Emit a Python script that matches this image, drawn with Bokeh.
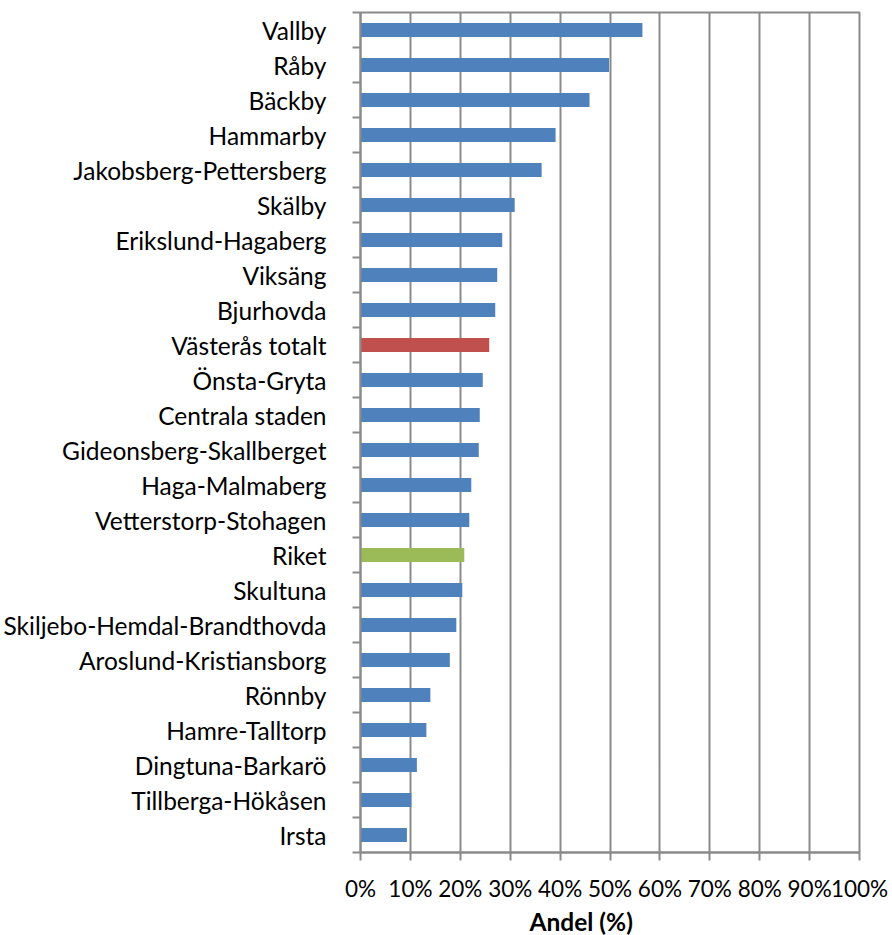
from bokeh.plotting import figure
from bokeh.models import FixedTicker, Range1d, ColumnDataSource, Title
from bokeh.embed import file_html
from bokeh.resources import INLINE

categories = [
    "Vallby", "Råby", "Bäckby", "Hammarby", "Jakobsberg-Pettersberg", "Skälby",
    "Erikslund-Hagaberg", "Viksäng", "Bjurhovda", "Västerås totalt", "Önsta-Gryta",
    "Centrala staden", "Gideonsberg-Skallberget", "Haga-Malmaberg",
    "Vetterstorp-Stohagen", "Riket", "Skultuna", "Skiljebo-Hemdal-Brandthovda",
    "Aroslund-Kristiansborg", "Rönnby", "Hamre-Talltorp", "Dingtuna-Barkarö",
    "Tillberga-Hökåsen", "Irsta",
]
values = [
    56.5, 49.8, 45.9, 39.1, 36.3, 30.9, 28.4, 27.4, 27.0, 25.8, 24.5, 23.9,
    23.7, 22.2, 21.8, 20.8, 20.4, 19.2, 17.9, 14.0, 13.2, 11.3, 10.2, 9.3,
]
x_ticks = [0, 10, 20, 30, 40, 50, 60, 70, 80, 90, 100]
x_tick_labels = ["0%", "10%", "20%", "30%", "40%", "50%", "60%", "70%", "80%", "90%", "100%"]
axis_title = "Andel (%)"

BLUE, RED, GREEN = "#4F81BD", "#C0504D", "#9BBB59"
colors = [RED if c == "Västerås totalt" else GREEN if c == "Riket" else BLUE for c in categories]

n = len(categories)
ypos = [n - 1 - i + 0.5 for i in range(n)]

src = ColumnDataSource(dict(y=ypos, v=values, c=colors))

FONT = "Lato"
FS = "24.5px"
GRAY = "#8a8a8a"

p = figure(width=892, height=935, output_backend="svg", toolbar_location=None,
           x_range=Range1d(0, 100), y_range=Range1d(0, n),
           min_border_left=359, min_border_top=12, min_border_right=33, min_border_bottom=81)

p.hbar(y="y", right="v", left=0, height=0.4, fill_color="c", line_color=None, source=src)

# x axis
p.xaxis.ticker = FixedTicker(ticks=x_ticks)
p.xaxis.major_label_overrides = {t: l for t, l in zip(x_ticks, x_tick_labels)}
p.xaxis.major_label_text_font = FONT
p.xaxis.major_label_text_font_size = "22.5px"
p.xaxis.major_label_text_color = "#000000"
p.xaxis.major_label_standoff = 14
p.xaxis.major_tick_out = 8
p.xaxis.major_tick_in = 0
p.xaxis.minor_tick_out = 0
p.xaxis.minor_tick_in = 0
p.xaxis.axis_line_color = GRAY
p.xaxis.axis_line_width = 2
p.xaxis.major_tick_line_color = GRAY
p.xaxis.major_tick_line_width = 2

# axis title below the axis, placed slightly left of centre as in the original
p.add_layout(Title(text=axis_title, align="left", offset=169, standoff=0,
                   text_font=FONT, text_font_size=FS, text_font_style="bold",
                   text_color="#000000"), "below")

# y axis: labels at centers, ticks at boundaries
p.yaxis.ticker = FixedTicker(ticks=ypos, minor_ticks=list(range(n + 1)))
p.yaxis.major_label_overrides = {y: c for y, c in zip(ypos, categories)}
p.yaxis.major_label_text_font = FONT
p.yaxis.major_label_text_font_size = FS
p.yaxis.major_label_text_color = "#000000"
p.yaxis.major_label_standoff = 26
p.yaxis.major_tick_out = 0
p.yaxis.major_tick_in = 0
p.yaxis.minor_tick_out = 8
p.yaxis.minor_tick_in = 0
p.yaxis.minor_tick_line_color = GRAY
p.yaxis.minor_tick_line_width = 2
p.yaxis.axis_line_color = GRAY
p.yaxis.axis_line_width = 2

p.xgrid.ticker = FixedTicker(ticks=x_ticks)
p.xgrid.grid_line_color = GRAY
p.xgrid.grid_line_width = 2
p.ygrid.grid_line_color = None

p.outline_line_color = GRAY
p.outline_line_width = 2
p.background_fill_color = "white"
p.border_fill_color = "white"

open("out.html", "w").write(file_html(p, INLINE))
